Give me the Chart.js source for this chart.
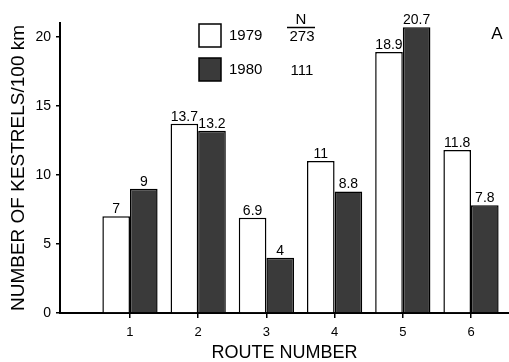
<!DOCTYPE html>
<html>
<head>
<meta charset="utf-8">
<script src="https://cdn.jsdelivr.net/npm/chart.js@4/dist/chart.umd.min.js"></script>
<style>
  html, body { margin: 0; padding: 0; background: #fff; overflow: hidden; }
  canvas { display: block; }
</style>
</head>
<body>
<canvas id="kestrelChart" width="509" height="362"></canvas>
<script>
'use strict'

// kestrels per 100 km on each route
var routes = [1, 2, 3, 4, 5, 6];
var years = ['1979', '1980'];
var sampleSizes = ['273', '111'];
var counts1979 = [7, 13.7, 6.9, 11, 18.9, 11.8];
var counts1980 = [9, 13.2, 4, 8.8, 20.7, 7.8];
var yTicks = [0, 5, 10, 15, 20];

var FONT = '"Liberation Sans", Arial, Helvetica, sans-serif';
Chart.defaults.font.family = FONT;
Chart.defaults.color = '#000';

function toPoints(values) {
  return values.map(function (v, i) { return { x: routes[i], y: v }; });
}

// numbers written over each bar
var barLabels = {
  id: 'barLabels',
  afterDatasetsDraw: function (chart) {
    var ctx = chart.ctx;
    ctx.save();
    ctx.font = '14px ' + FONT;
    ctx.fillStyle = '#000';
    ctx.textAlign = 'center';
    ctx.textBaseline = 'alphabetic';
    chart.data.datasets.forEach(function (ds, d) {
      chart.getDatasetMeta(d).data.forEach(function (bar, i) {
        ctx.fillText(String(ds.data[i].y), bar.x, bar.y - 3);
      });
    });
    ctx.restore();
  }
};

// the boxed key with the N column, and the panel letter
var keyBox = {
  id: 'keyBox',
  afterDraw: function (chart) {
    var ctx = chart.ctx;
    ctx.save();
    chart.data.datasets.forEach(function (ds, d) {
      var top = 24 + d * 34;
      ctx.fillStyle = ds.backgroundColor;
      ctx.strokeStyle = '#000';
      ctx.lineWidth = 1.5;
      ctx.fillRect(199, top, 22, 23);
      ctx.strokeRect(199, top, 22, 23);
      ctx.fillStyle = '#000';
      ctx.font = '15px ' + FONT;
      ctx.textBaseline = 'middle';
      ctx.textAlign = 'left';
      ctx.fillText(years[d], 229, top + 12);
      ctx.textAlign = 'center';
      ctx.fillText(sampleSizes[d], 302, top + 13);
    });
    ctx.font = '15px ' + FONT;
    ctx.textAlign = 'center';
    ctx.textBaseline = 'middle';
    ctx.fillText('N', 301, 20);
    ctx.beginPath();
    ctx.moveTo(287, 27.5);
    ctx.lineTo(315, 27.5);
    ctx.lineWidth = 1.5;
    ctx.stroke();
    ctx.font = '17px ' + FONT;
    ctx.fillText('A', 497, 34);
    ctx.restore();
  }
};

var chart = new Chart(document.getElementById('kestrelChart').getContext('2d'), {
  type: 'bar',
  data: {
    datasets: [{
      label: years[0],
      data: toPoints(counts1979),
      backgroundColor: '#ffffff',
      borderColor: '#000',
      borderWidth: 1.5
    }, {
      label: years[1],
      data: toPoints(counts1980),
      backgroundColor: '#3a3a3a',
      borderColor: '#000',
      borderWidth: 1.5
    }]
  },
  options: {
    responsive: false,
    animation: false,
    devicePixelRatio: 1,
    categoryPercentage: 0.81,
    barPercentage: 1,
    layout: { padding: { top: 23, right: 0, bottom: 0, left: 0 } },
    plugins: {
      legend: { display: false },
      tooltip: { enabled: false }
    },
    scales: {
      x: {
        type: 'linear',
        offset: false,
        min: -0.026,
        max: 6.557,
        afterFit: function (scale) { scale.height = 49; },
        afterBuildTicks: function (scale) {
          scale.ticks = routes.map(function (r) { return { value: r }; });
        },
        ticks: {
          stepSize: 1,
          includeBounds: false,
          padding: 7,
          font: { size: 13 },
          color: '#000'
        },
        grid: { offset: false, drawOnChartArea: false, drawTicks: true, tickLength: 5, color: '#000', lineWidth: 1.5 },
        border: { display: true, color: '#000', width: 2 },
        title: {
          display: true,
          text: 'ROUTE NUMBER',
          font: { size: 18, lineHeight: 1 },
          color: '#000',
          padding: { top: 0, bottom: 0 }
        }
      },
      y: {
        min: 0,
        max: 21,
        afterFit: function (scale) { scale.width = 60; },
        afterBuildTicks: function (scale) {
          scale.ticks = yTicks.map(function (t) { return { value: t }; });
        },
        ticks: {
          stepSize: 5,
          padding: 5,
          font: { size: 14 },
          color: '#000'
        },
        grid: { drawOnChartArea: false, drawTicks: true, tickLength: 4, color: '#000', lineWidth: 1.5 },
        border: { display: true, color: '#000', width: 2 },
        title: {
          display: true,
          text: 'NUMBER OF KESTRELS/100 km',
          font: { size: 19 },
          color: '#000',
          padding: { top: 7, bottom: 0 }
        }
      }
    }
  },
  plugins: [barLabels, keyBox]
});
</script>
</body>
</html>
